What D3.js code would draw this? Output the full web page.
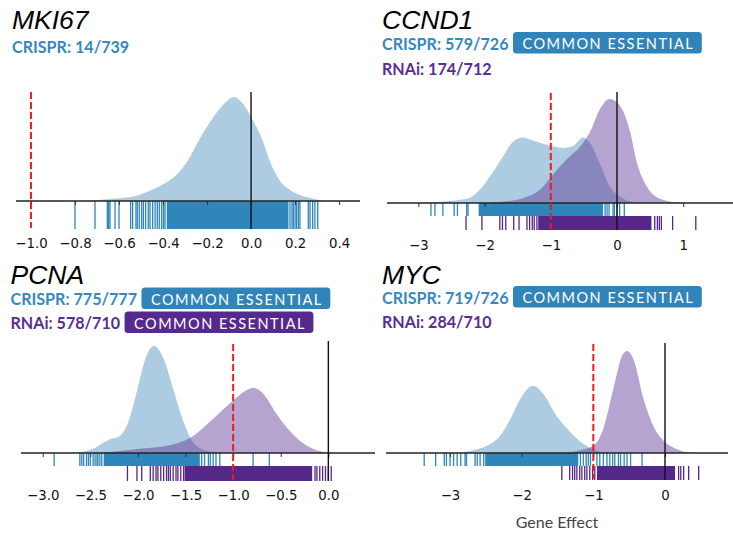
<!DOCTYPE html>
<html><head><meta charset="utf-8">
<script src="https://cdn.jsdelivr.net/npm/d3@7"></script>
<style>
html,body{margin:0;padding:0;background:#fff;}
svg{display:block;}
</style></head><body>
<svg id="chart" width="733" height="537"></svg>
<script>
// ---------------- DATA ----------------
const genes = ["MKI67", "CCND1", "PCNA", "MYC"];
const crisprLabels = ["CRISPR: 14/739", "CRISPR: 579/726", "CRISPR: 775/777", "CRISPR: 719/726"];
const rnaiLabels = [null, "RNAi: 174/712", "RNAi: 578/710", "RNAi: 284/710"];
const crisprCommonEssential = [false, true, true, true];
const rnaiCommonEssential = [false, false, true, false];
const badgeText = "COMMON ESSENTIAL";
const xAxisTitle = "Gene Effect";

// axis limits and ticks
const mki67Domain = [-1.068, 0.495];
const ccnd1Domain = [-3.474, 1.752];
const pcnaDomain = [-3.228, 0.490];
const mycDomain = [-3.893, 0.879];
const mki67Ticks = [-1.0, -0.8, -0.6, -0.4, -0.2, 0.0, 0.2, 0.4];
const ccnd1Ticks = [-3, -2, -1, 0, 1];
const pcnaTicks = [-3.0, -2.5, -2.0, -1.5, -1.0, -0.5, 0.0];
const mycTicks = [-3, -2, -1, 0];

// density estimates (relative to the panel's tallest curve)
const mki67CrisprX = [-0.75, -0.64, -0.54, -0.47, -0.40, -0.34, -0.29, -0.23, -0.17, -0.11, -0.08, -0.035, 0.01, 0.055, 0.086, 0.13, 0.19, 0.27, 0.345, 0.40];
const mki67CrisprD = [0, 0.02, 0.04, 0.09, 0.16, 0.25, 0.38, 0.61, 0.81, 0.96, 1.0, 0.93, 0.77, 0.57, 0.38, 0.20, 0.09, 0.03, 0, 0];

const ccnd1CrisprX = [-2.97, -2.27, -2.07, -1.87, -1.72, -1.57, -1.42, -1.27, -1.06, -0.81, -0.66, -0.51, -0.41, -0.26, -0.11, 0.05, 0.24, 0.40];
const ccnd1CrisprD = [0, 0.04, 0.13, 0.30, 0.45, 0.59, 0.63, 0.60, 0.56, 0.53, 0.55, 0.63, 0.58, 0.38, 0.16, 0.06, 0.01, 0];
const ccnd1RnaiX = [-2.2, -1.62, -1.36, -1.16, -0.96, -0.76, -0.56, -0.41, -0.26, -0.11, 0.05, 0.20, 0.30, 0.45, 0.65, 0.90, 1.10];
const ccnd1RnaiD = [0, 0.02, 0.06, 0.13, 0.28, 0.42, 0.54, 0.68, 0.90, 1.0, 0.93, 0.68, 0.39, 0.16, 0.04, 0.005, 0];

const pcnaCrisprX = [-2.68, -2.47, -2.29, -2.19, -2.12, -2.05, -1.98, -1.91, -1.83, -1.73, -1.63, -1.52, -1.42, -1.28, -1.10];
const pcnaCrisprD = [0, 0.04, 0.13, 0.16, 0.25, 0.44, 0.69, 0.91, 1.0, 0.88, 0.60, 0.29, 0.10, 0.02, 0];
const pcnaRnaiX = [-2.4, -1.98, -1.63, -1.42, -1.21, -1.00, -0.89, -0.79, -0.68, -0.54, -0.40, -0.23, -0.05, 0.08];
const pcnaRnaiD = [0, 0.04, 0.08, 0.16, 0.32, 0.49, 0.57, 0.61, 0.55, 0.36, 0.20, 0.07, 0.01, 0];

const mycCrisprX = [-3.0, -2.72, -2.49, -2.30, -2.16, -2.02, -1.84, -1.70, -1.51, -1.33, -1.14, -0.95, -0.77];
const mycCrisprD = [0, 0.02, 0.07, 0.17, 0.33, 0.53, 0.66, 0.58, 0.36, 0.21, 0.09, 0.02, 0];
const mycRnaiX = [-1.5, -1.23, -1.00, -0.86, -0.72, -0.60, -0.53, -0.44, -0.30, -0.16, -0.02, 0.16, 0.35, 0.50];
const mycRnaiD = [0, 0.02, 0.07, 0.24, 0.63, 0.95, 1.0, 0.92, 0.53, 0.26, 0.12, 0.04, 0.005, 0];

// rug: individual cell lines plus densely packed spans
const mki67CrisprRug = [-0.80, -0.709, -0.653, -0.647, -0.641, -0.618, -0.60, -0.547, -0.538, -0.523, -0.517, -0.508, -0.497, -0.489, -0.479, -0.467, -0.459, -0.447, -0.436, -0.426, -0.417, -0.406, -0.398, -0.391, 0.177, 0.186, 0.192, 0.20, 0.207, 0.215, 0.222, 0.26, 0.268, 0.28, 0.29, 0.303];
const mki67CrisprSpans = [[-0.383, 0.170]];

const ccnd1CrisprRug = [-2.81, -2.75, -2.63, -2.46, -2.41, -2.27, -2.25, -0.18, -0.15, -0.12, -0.06, -0.04, 0.00, 0.04, 0.11];
const ccnd1CrisprSpans = [[-2.09, -0.21]];
const ccnd1RnaiRug = [-2.28, -2.04, -1.77, -1.73, -1.68, -1.56, -1.48, -1.36, -1.32, -1.28, -1.25, -1.21, 0.57, 0.61, 0.64, 0.67, 0.84, 1.19];
const ccnd1RnaiSpans = [[-1.19, 0.52]];

const pcnaCrisprRug = [-2.88, -2.61, -2.59, -2.57, -2.54, -2.52, -2.50, -2.47, -2.45, -2.43, -2.42, -2.40, -2.38, -1.33, -1.30, -1.26, -1.24, -1.21, -1.18, -1.14, -0.79, -0.62];
const pcnaCrisprSpans = [[-2.36, -1.35]];
const pcnaRnaiRug = [-2.11, -2.01, -1.96, -1.87, -1.84, -1.81, -1.79, -1.76, -1.73, -1.70, -1.68, -1.66, -1.63, -1.60, -1.58, -1.55, -1.52, -0.14, -0.12, -0.09, -0.06, -0.03, 0.00, 0.03];
const pcnaRnaiSpans = [[-1.51, -0.17]];

const mycCrisprRug = [-3.36, -3.20, -3.08, -3.05, -3.00, -2.95, -2.90, -2.85, -2.79, -2.77, -2.65, -2.62, -2.58, -2.53, -1.18, -1.14, -1.10, -1.07, -1.04, -0.95, -0.91, -0.86, -0.81, -0.77, -0.73, -0.70, -0.65, -0.62, -0.57, -0.53, -0.48, -0.32];
const mycCrisprSpans = [[-2.51, -1.21]];
const mycRnaiRug = [-1.44, -1.33, -1.29, -1.26, -1.23, -1.19, -1.16, -1.12, -1.09, -1.05, -1.01, -0.98, 0.19, 0.22, 0.26, 0.33, 0.47];
const mycRnaiSpans = [[-0.95, 0.14]];

const threshold = -1; // red dashed reference line

// ---------------- STYLE / LAYOUT ----------------
const C = {
  crisprText: "#3788bf", crisprBadge: "#3184b9", crisprRug: "#2f86ba", crisprFill: "rgba(52,128,180,0.40)",
  rnaiText: "#5a2d91", rnaiBadge: "#55298d", rnaiRug: "#542788", rnaiFill: "rgba(86,48,146,0.44)",
  red: "#ee1c1c"
};

const panels = [
  {gene: 0, textX: 12, titleY: 29, crisprY: 52.5, rnaiY: null, axisY: 201, range: [16, 360], domain: mki67Domain, ticks: mki67Ticks, fmt: d3.format(".1f"),
   peakPx: 104, zeroTop: 92, redTop: 92, rugTop: 201, rugMid: 229, rugBottom: 229,
   crispr: {x: mki67CrisprX, d: mki67CrisprD, rug: mki67CrisprRug, spans: mki67CrisprSpans}, rnai: null},
  {gene: 1, textX: 382, titleY: 29, crisprY: 49.5, rnaiY: 75, axisY: 203, range: [387, 733], domain: ccnd1Domain, ticks: ccnd1Ticks, fmt: d3.format("d"),
   peakPx: 104, zeroTop: 92, redTop: 93, rugTop: 203, rugMid: 216, rugBottom: 230,
   crispr: {x: ccnd1CrisprX, d: ccnd1CrisprD, rug: ccnd1CrisprRug, spans: ccnd1CrisprSpans},
   rnai: {x: ccnd1RnaiX, d: ccnd1RnaiD, rug: ccnd1RnaiRug, spans: ccnd1RnaiSpans}},
  {gene: 2, textX: 10.5, titleY: 284, crisprY: 305, rnaiY: 329, axisY: 453, range: [21, 375], domain: pcnaDomain, ticks: pcnaTicks, fmt: d3.format(".1f"),
   peakPx: 107, zeroTop: 341, redTop: 344, rugTop: 453, rugMid: 466, rugBottom: 481,
   crispr: {x: pcnaCrisprX, d: pcnaCrisprD, rug: pcnaCrisprRug, spans: pcnaCrisprSpans},
   rnai: {x: pcnaRnaiX, d: pcnaRnaiD, rug: pcnaRnaiRug, spans: pcnaRnaiSpans}},
  {gene: 3, textX: 382, titleY: 284, crisprY: 303.5, rnaiY: 327.5, axisY: 453, range: [386, 728], domain: mycDomain, ticks: mycTicks, fmt: d3.format("d"),
   peakPx: 102, zeroTop: 343, redTop: 344, rugTop: 453, rugMid: 466, rugBottom: 480,
   crispr: {x: mycCrisprX, d: mycCrisprD, rug: mycCrisprRug, spans: mycCrisprSpans},
   rnai: {x: mycRnaiX, d: mycRnaiD, rug: mycRnaiRug, spans: mycRnaiSpans}}
];

const svg = d3.select("#chart");

function label(g, x, y, text, color, badge, badgeColor) {
  const t = g.append("text").attr("x", x).attr("y", y)
    .attr("font-family", "Lato, sans-serif").attr("font-weight", 700).attr("font-size", 16.1)
    .attr("fill", color).text(text);
  if (badge) {
    const w = t.node().getComputedTextLength();
    const bx = x + w + 4.5;
    const bg = g.append("g");
    const bt = bg.append("text").attr("x", bx + 9.5).attr("y", y - 0.5)
      .attr("font-family", "Lato, sans-serif").attr("font-weight", 400).attr("font-size", 14.5)
      .attr("letter-spacing", 1.5).attr("fill", "#fff").text(badgeText);
    const bw = bt.node().getComputedTextLength();
    bg.insert("rect", "text").attr("x", bx).attr("y", y - 17.5).attr("width", bw + 17).attr("height", 21.5)
      .attr("rx", 3.5).attr("fill", badgeColor);
  }
}

panels.forEach(p => {
  const g = svg.append("g");
  const x = d3.scaleLinear().domain(p.domain).range(p.range);
  const y = d3.scaleLinear().domain([0, 1]).range([p.axisY, p.axisY - p.peakPx]);

  // texts
  g.append("text").attr("x", p.textX).attr("y", p.titleY)
    .attr("font-family", "'Liberation Sans', Arial, sans-serif").attr("font-style", "italic")
    .attr("font-size", 26.5).attr("fill", "#000").text(genes[p.gene]);
  label(g, p.textX, p.crisprY, crisprLabels[p.gene], C.crisprText, crisprCommonEssential[p.gene], C.crisprBadge);
  if (rnaiLabels[p.gene]) label(g, p.textX, p.rnaiY, rnaiLabels[p.gene], C.rnaiText, rnaiCommonEssential[p.gene], C.rnaiBadge);

  // densities
  const area = d3.area().curve(d3.curveMonotoneX).x(d => x(d[0])).y0(p.axisY).y1(d => y(d[1]));
  g.append("path").datum(d3.zip(p.crispr.x, p.crispr.d)).attr("d", area).attr("fill", C.crisprFill);
  if (p.rnai) g.append("path").datum(d3.zip(p.rnai.x, p.rnai.d)).attr("d", area).attr("fill", C.rnaiFill);

  // rugs
  function rug(series, y1, y2, color) {
    g.append("g").selectAll("rect").data(series.spans).join("rect")
      .attr("x", d => x(d[0])).attr("width", d => x(d[1]) - x(d[0]))
      .attr("y", y1).attr("height", y2 - y1).attr("fill", color);
    g.append("g").selectAll("line").data(series.rug).join("line")
      .attr("x1", d => x(d)).attr("x2", d => x(d)).attr("y1", y1).attr("y2", y2)
      .attr("stroke", color).attr("stroke-width", 1.3);
  }
  rug(p.crispr, p.rugTop, p.rugMid, C.crisprRug);
  if (p.rnai) rug(p.rnai, p.rugMid, p.rugBottom, C.rnaiRug);

  // axis
  const ax = d3.axisBottom(x).tickValues(p.ticks).tickFormat(p.fmt).tickSize(4).tickPadding(33.5);
  const axg = g.append("g").attr("transform", `translate(0,${p.axisY})`).call(ax);
  axg.select(".domain").remove();
  axg.selectAll(".tick line").attr("stroke", "#333").attr("stroke-width", 1);
  axg.selectAll(".tick text").attr("font-family", "'DejaVu Sans', sans-serif").attr("font-size", 13.3).attr("fill", "#111");
  g.append("line").attr("x1", p.range[0]).attr("x2", p.range[1]).attr("y1", p.axisY).attr("y2", p.axisY)
    .attr("stroke", "#222").attr("stroke-width", 1.3);

  // zero line
  g.append("line").attr("x1", x(0)).attr("x2", x(0)).attr("y1", p.zeroTop).attr("y2", p.rugBottom)
    .attr("stroke", "#111").attr("stroke-width", 1.4);
  // threshold
  g.append("line").attr("x1", x(threshold)).attr("x2", x(threshold)).attr("y1", p.redTop).attr("y2", p.rugBottom - 1)
    .attr("stroke", C.red).attr("stroke-width", 2).attr("stroke-dasharray", "7,3");
});

svg.append("text").attr("x", 557).attr("y", 528).attr("text-anchor", "middle")
  .attr("font-family", "Lato, sans-serif").attr("font-size", 16).attr("fill", "#444").text(xAxisTitle);
</script>
</body></html>
